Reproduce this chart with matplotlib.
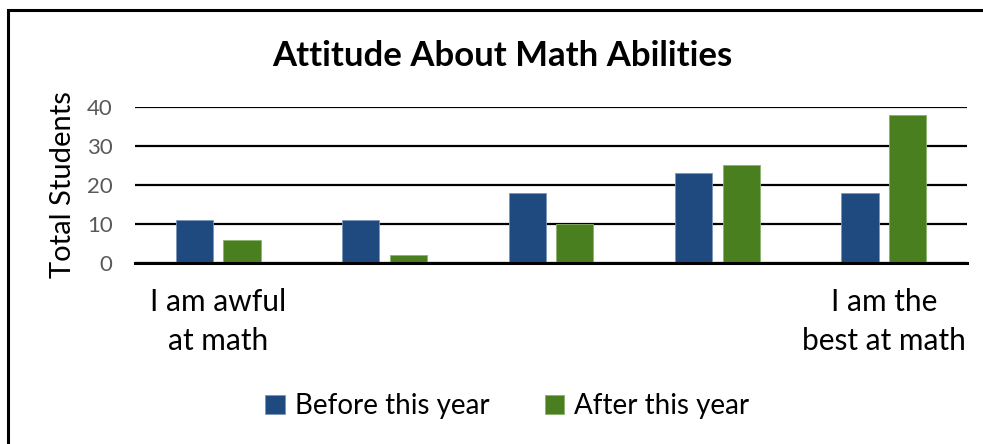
import matplotlib.pyplot as plt
from matplotlib.patches import Rectangle
import numpy as np

plt.rcParams['font.family'] = ['Lato', 'DejaVu Sans']

categories = ["I am awful\nat math", "", "", "", "I am the\nbest at math"]
before = [11, 11, 18, 23, 18]
after = [6, 2, 10, 25, 38]
series_names = ["Before this year", "After this year"]
y_ticks = [0, 10, 20, 30, 40]

BLUE = "#1F4A7F"
GREEN = "#4A7F1F"

fig = plt.figure(figsize=(9.83, 4.44), dpi=100)
ax = fig.add_axes([0.1373, 0.4077, 0.8464, 0.3513])

x = np.arange(len(categories))
w = 0.223
off = 0.143
b1 = ax.bar(x - off, before, w, color=BLUE, edgecolor="#7D96B8", linewidth=0.6,
            label=series_names[0], zorder=3)
b2 = ax.bar(x + off, after, w, color=GREEN, edgecolor="#8DB06E", linewidth=0.6,
            label=series_names[1], zorder=3)

ax.set_xlim(-0.5, len(categories) - 0.5)
ax.set_ylim(0, 40)
ax.set_yticks(y_ticks)
ax.yaxis.grid(True, color="black", linewidth=1.6, zorder=1)
ax.set_axisbelow(True)
for s in ["top", "right", "left"]:
    ax.spines[s].set_visible(False)
ax.spines["bottom"].set_linewidth(2.2)
ax.spines["bottom"].set_zorder(4)
ax.tick_params(axis="y", length=0, pad=16, labelsize=16, labelcolor="#595959")
ax.tick_params(axis="x", length=0, pad=18, labelsize=21.5)
ax.set_xticks(x)
ax.set_xticklabels(categories, linespacing=1.5)

ax.set_ylabel("Total Students", fontsize=21, labelpad=8)

fig.text(0.511, 0.874, "Attitude About Math Abilities", ha="center", va="center",
         fontsize=25, fontweight="bold")

fig.legend(handles=[b1, b2], loc="center", bbox_to_anchor=(0.516, 0.085),
           ncol=2, frameon=False, fontsize=20, handlelength=0.7,
           handleheight=0.7, handletextpad=0.35, columnspacing=2.0)

# chart frame
fig.patches.append(Rectangle((8 / 983, -0.1), 1.1, 0.1 + 1 - 10 / 444,
                             transform=fig.transFigure, fill=False,
                             edgecolor="black", linewidth=2.2))

fig.savefig("out.png", dpi=100)
